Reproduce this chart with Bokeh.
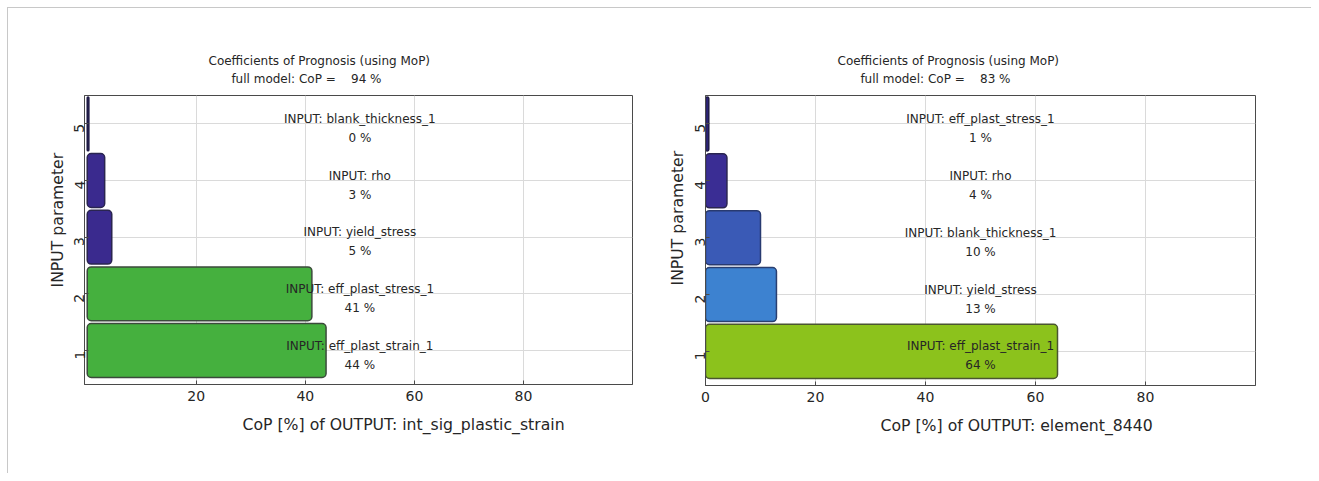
import math
from bokeh.plotting import figure
from bokeh.models import Range1d, FixedTicker, Title, ColumnDataSource
from bokeh.layouts import row
from bokeh.embed import file_html
from bokeh.resources import INLINE
from bokeh.core.properties import value

FONT = "DejaVu Sans"
TXT = "#262626"
NB = "\u00a0"

positions = [1, 2, 3, 4, 5]
y_ticks = [1, 2, 3, 4, 5]

left_values = [43.8, 41.2, 4.5, 3.2, 0.3]
left_inputs = ["eff_plast_strain_1", "eff_plast_stress_1", "yield_stress", "rho", "blank_thickness_1"]
left_pct = [44, 41, 5, 3, 0]
left_colors = ["#45b03e", "#45b03e", "#3a2a8e", "#3a2a8e", "#2a2070"]
left_lines = ["#3b4a3b", "#3b4a3b", "#2a2550", "#2a2550", "#1e1a45"]
left_cop = 94
left_output = "int_sig_plastic_strain"
left_xticks = [20, 40, 60, 80]

right_values = [64.0, 12.9, 10.0, 3.9, 0.6]
right_inputs = ["eff_plast_strain_1", "yield_stress", "blank_thickness_1", "rho", "eff_plast_stress_1"]
right_pct = [64, 13, 10, 4, 1]
right_colors = ["#8cc21c", "#3d82d0", "#3a5ab6", "#3a2d94", "#2c2475"]
right_lines = ["#4a5530", "#2a3f70", "#283a70", "#2a2550", "#1e1a45"]
right_cop = 83
right_output = "element_8440"
right_xticks = [0, 20, 40, 60, 80]


def ttl(text, off, standoff, size="12px", line_height=1.0):
    return Title(text=text, align="left", offset=off, standoff=standoff,
                 text_font=FONT, text_font_size=size, text_color=TXT,
                 text_font_style="normal", text_line_height=line_height)


def make_chart(values, inputs, pct, colors, lines, cop, output, xticks,
               x_start, bl, br, bt, fw, fh, t_off, xl_off, yl_off, yl_standoff):
    p = figure(frame_width=fw, frame_height=fh,
               min_border_left=bl, min_border_right=br,
               min_border_top=bt, min_border_bottom=465 - bt - fh,
               x_range=Range1d(x_start, 100), y_range=Range1d(0.4, 5.5),
               output_backend="svg", toolbar_location=None)
    p.background_fill_color = "white"
    p.border_fill_color = "white"
    p.outline_line_color = "#4a4a4a"
    p.outline_line_width = 1

    src = ColumnDataSource(dict(
        y=positions, v=values, color=colors, line=lines,
        t1=["INPUT: " + s for s in inputs],
        t2=["%d %%" % v for v in pct],
    ))
    p.hbar(y="y", left=0, right="v", height=0.95, source=src,
           fill_color="color", line_color="line", line_width=1.5,
           border_radius=4)
    p.text(x=50, y="y", text="t1", source=src, text_align="center",
           text_baseline="middle", y_offset=-5,
           text_font=value(FONT), text_font_size="12px", text_color=TXT)
    p.text(x=50, y="y", text="t2", source=src, text_align="center",
           text_baseline="middle", y_offset=14,
           text_font=value(FONT), text_font_size="12px", text_color=TXT)

    for ax in (p.xaxis[0], p.yaxis[0]):
        ax.axis_line_color = "#4a4a4a"
        ax.major_tick_line_color = "#4a4a4a"
        ax.major_tick_in = 4
        ax.major_tick_out = 0
        ax.minor_tick_line_color = None
        ax.major_label_text_font = FONT
        ax.major_label_text_font_size = "14px"
        ax.major_label_text_color = TXT
    p.xaxis.ticker = FixedTicker(ticks=xticks)
    p.xaxis.major_label_standoff = 6
    p.yaxis.ticker = FixedTicker(ticks=y_ticks)
    p.yaxis.major_label_orientation = math.pi / 2
    p.yaxis.major_label_standoff = 5

    p.xgrid.ticker = FixedTicker(ticks=xticks)
    p.ygrid.ticker = FixedTicker(ticks=y_ticks)
    p.grid.grid_line_color = "#dadada"
    p.grid.grid_line_width = 1

    title_text = ("Coefficients of Prognosis (using MoP)\n" + NB * 6 +
                  "full model: CoP =" + NB * 4 + "%d %%" % cop)
    p.add_layout(ttl(title_text, t_off, 18, line_height=1.33), "above")
    p.add_layout(ttl("CoP [%] of OUTPUT: " + output, xl_off, 18, size="15.7px"), "below")
    p.add_layout(ttl("INPUT parameter", yl_off, yl_standoff, size="15.7px"), "left")
    return p


p1 = make_chart(left_values, left_inputs, left_pct, left_colors, left_lines,
                left_cop, left_output, left_xticks,
                x_start=-0.5, bl=76, br=28, bt=87, fw=548, fh=289,
                t_off=124, xl_off=158, yl_off=97, yl_standoff=0)
p2 = make_chart(right_values, right_inputs, right_pct, right_colors, right_lines,
                right_cop, right_output, right_xticks,
                x_start=0, bl=45, br=56, bt=84, fw=550, fh=290,
                t_off=132, xl_off=175, yl_off=100, yl_standoff=2)

layout = row(p1, p2, styles={"border-top": "1px solid #c8c8c8",
                             "border-left": "1px solid #c8c8c8",
                             "margin-left": "7px", "margin-top": "7px"})

open("out.html", "w").write(file_html(layout, INLINE))
